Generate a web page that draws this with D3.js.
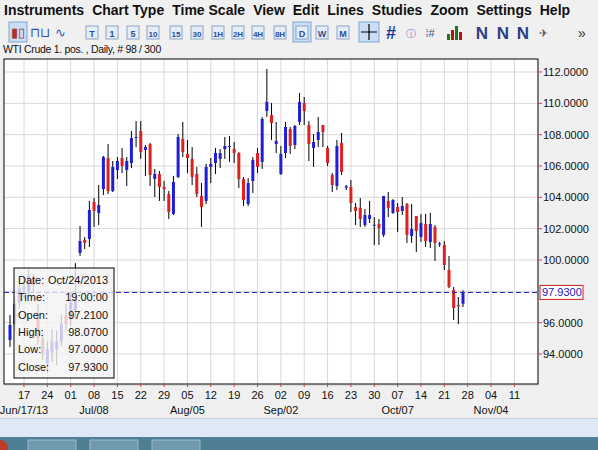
<!DOCTYPE html>
<html><head><meta charset="utf-8">
<script src="https://cdn.jsdelivr.net/npm/d3@7"></script>
<style>body{margin:0;overflow:hidden;background:#f0f0f0}svg{display:block}</style>
</head><body><svg id="c" width="598" height="450"></svg>
<script>
const dayIndex = d3.range(-3, 95);
const opens  = [94.89,95.9,97.3,98.1,98.0,98.9,96.6,95.0,93.4,94.1,94.3,94.8,96.5,96.2,96.8,
 100.45,101.28,101.34,103.70,103.0,104.53,106.51,104.40,105.74,106.51,105.74,106.19,107.79,108.23,107.02,107.40,105.17,105.49,104.66,104.21,102.94,105.30,107.72,106.77,106.45,105.49,104.09,103.77,105.94,106.19,106.45,107.08,107.21,107.08,106.83,105.17,103.57,105.04,106.83,106.26,109.51,109.26,107.40,105.49,106.83,108.36,107.34,
 108.81,110.02,108.62,107.15,107.66,108.62,107.15,105.43,104.72,107.47,104.62,104.66,103.38,103.32,102.23,102.62,102.19,102.30,101.60,103.77,103.0,103.38,103.13,103.57,101.53,102.81,101.47,102.30,101.15,102.11,101.0,100.96,99.36,98.09,97.13,97.21];
const highs  = [96.49,97.6,98.5,98.9,99.4,99.1,97.2,95.3,94.8,95.6,95.5,96.5,97.2,97.9,99.8,
 102.17,101.47,103.77,103.96,104.79,106.64,107.40,106.32,106.57,107.15,106.57,108.23,108.87,108.87,107.34,107.47,105.81,105.68,105.04,104.40,105.36,108.04,108.81,107.66,107.21,105.94,104.91,106.13,106.51,107.15,107.08,107.85,107.91,107.53,106.89,105.30,105.23,106.57,107.15,109.13,112.19,110.02,108.81,107.28,108.81,108.49,108.62,
 110.66,110.40,108.87,108.04,109.13,108.62,107.28,105.55,107.66,108.11,104.79,105.11,103.64,103.96,103.26,103.77,102.74,102.62,104.09,104.34,103.89,103.64,104.02,103.64,103.57,102.81,102.94,102.94,103.0,102.23,101.15,101.21,100.26,98.28,97.64,98.07];
const lows   = [94.45,95.5,96.9,97.6,97.7,97.9,94.6,93.6,92.8,93.5,93.3,94.5,95.6,95.8,96.2,
 100.26,100.70,100.83,102.11,102.23,104.15,104.21,104.34,105.17,105.55,104.72,105.87,107.21,106.45,105.36,104.72,104.02,103.77,103.77,102.62,102.87,105.23,106.57,105.55,104.79,104.02,102.11,103.57,104.91,105.49,105.87,106.45,106.26,106.19,104.60,103.45,103.45,104.28,105.55,105.81,109.13,107.66,106.83,105.43,106.51,106.77,107.08,
 108.62,108.62,106.32,105.94,107.21,107.21,106.0,104.34,104.47,105.43,104.47,103.06,102.23,102.11,102.11,102.36,100.96,100.96,101.47,102.74,102.94,101.79,102.87,101.09,101.09,100.51,101.15,100.83,100.77,99.94,100.83,99.36,98.21,96.17,95.91,97.0];
const closes = [95.85,97.2,98.2,98.3,99.0,98.4,95.0,94.0,94.3,94.8,94.8,95.9,95.9,97.3,97.5,
 101.21,101.09,103.19,103.13,103.51,106.57,104.40,105.94,106.32,106.0,106.32,107.79,107.85,106.89,107.21,105.43,105.49,104.66,104.53,103.06,104.98,107.85,106.89,106.51,105.30,104.21,103.38,105.94,106.13,106.83,106.83,107.28,107.28,106.83,105.17,103.83,104.91,106.38,105.94,109.0,110.09,108.74,107.60,106.77,108.49,107.28,108.55,
 110.09,109.51,107.40,107.53,108.17,108.17,106.19,104.79,107.28,105.62,104.70,103.64,103.13,102.62,102.87,102.87,102.25,102.04,104.09,103.32,103.83,103.06,103.45,101.60,101.98,101.85,102.36,101.21,102.30,101.09,101.05,99.68,98.28,96.94,97.05,97.93];
const priceTicks = [94,96,100,102,104,106,108,110,112];
const weekLabels = ["17","24","01","08","15","22","29","05","12","19","26","02","09","16","23","30","07","14","21","28","04","11"];
const monthLabels = [["Jun/17/13",0],["Jul/08",15],["Aug/05",35],["Sep/02",55],["Oct/07",80],["Nov/04",100]];
const lastPrice = 97.93;
const menus = ["Instruments","Chart Type","Time Scale","View","Edit","Lines","Studies","Zoom","Settings","Help"];
const tfButtons = ["T","1","5","10","15","30","1H","2H","4H","8H","D","W","M"];
const tipRows = [["Date:","Oct/24/2013"],["Time:","19:00:00"],["Open:","97.2100"],["High:","98.0700"],["Low:","97.0000"],["Close:","97.9300"]];

const svg = d3.select("#c");
const F = "Liberation Sans, Arial, sans-serif";
const x = d3.scaleLinear().domain([0,94]).range([24,463]);
const y = d3.scaleLinear().domain([94,112]).range([354,72]);
const L=4,R=538,T=59,B=384;

// chrome
svg.append("rect").attr("width",598).attr("height",450).attr("fill","#f0f0f0");
svg.append("rect").attr("y",418).attr("width",598).attr("height",20).attr("fill","#dfe9f5");
svg.append("line").attr("x1",0).attr("x2",598).attr("y1",418.5).attr("y2",418.5).attr("stroke","#c5d3e3");
svg.append("rect").attr("y",437).attr("width",598).attr("height",13).attr("fill","#4f7f94");
[[28,48],[90,48],[152,48]].forEach(b=>svg.append("rect").attr("x",b[0]).attr("y",440).attr("width",b[1]).attr("height",12).attr("fill","#6f9aae").attr("stroke","#9bbccb"));
svg.append("circle").attr("cx",0).attr("cy",448).attr("r",8).attr("fill","#c0392b");

// menu
let mx=4;
const mg=svg.append("g");
menus.forEach(m=>{const t=mg.append("text").attr("x",mx).attr("y",15).attr("font-family",F).attr("font-size",14).attr("font-weight","bold").attr("fill","#111").text(m);mx+=t.node().getComputedTextLength()+8;});
// toolbar
const tb=svg.append("g");
tb.append("rect").attr("x",9).attr("y",22).attr("width",18).attr("height",20).attr("fill","#c9def4").attr("stroke","#7aa7d6");
tb.append("text").attr("x",18).attr("y",37).attr("text-anchor","middle").attr("font-size",13).attr("fill","#a33").attr("font-family",F).text("▮▯");
tb.append("text").attr("x",40).attr("y",37).attr("text-anchor","middle").attr("font-size",13).attr("fill","#3355aa").attr("font-family",F).text("⊓⊔");
tb.append("text").attr("x",60).attr("y",37).attr("text-anchor","middle").attr("font-size",13).attr("fill","#3355aa").attr("font-family",F).text("∿");
const bx=[92,112,133,153,176,197,218,238,258,280,302,322,343];
tfButtons.forEach((b,i)=>{
  if(b==="D") tb.append("rect").attr("x",bx[i]-9).attr("y",22).attr("width",18).attr("height",20).attr("fill","#c9def4").attr("stroke","#7aa7d6");
  tb.append("rect").attr("x",bx[i]-6).attr("y",26).attr("width",12).attr("height",13).attr("fill","#e4ecf6").attr("stroke","#8aa4c8");
  tb.append("text").attr("x",bx[i]).attr("y",36.5).attr("text-anchor","middle").attr("font-family",F).attr("font-size",b.length>1?8:9).attr("font-weight","bold").attr("fill","#2a4f9a").text(b);
});
tb.append("rect").attr("x",359).attr("y",22).attr("width",20).attr("height",20).attr("fill","#c9def4").attr("stroke","#7aa7d6");
tb.append("path").attr("d","M361,32H377M369,24V40").attr("stroke","#000").attr("stroke-width",1.2);
tb.append("text").attr("x",391).attr("y",39).attr("text-anchor","middle").attr("font-family",F).attr("font-size",18).attr("font-weight","bold").attr("fill","#1a3c9a").text("#");
tb.append("text").attr("x",411).attr("y",37).attr("text-anchor","middle").attr("font-family",F).attr("font-size",10).attr("fill","#8a6fc0").text("ⓘ");
tb.append("text").attr("x",430).attr("y",37).attr("text-anchor","middle").attr("font-family",F).attr("font-size",11).attr("fill","#2a4f9a").text("⁞#");
[[447,6,"#1a7a1a"],[451,10,"#b11"],[455,14,"#1a7a1a"],[459,8,"#b11"]].forEach(v=>tb.append("rect").attr("x",v[0]).attr("y",40-v[1]).attr("width",3).attr("height",v[1]).attr("fill",v[2]));
[482,503,523].forEach(px=>tb.append("text").attr("x",px).attr("y",39).attr("text-anchor","middle").attr("font-family",F).attr("font-size",17).attr("font-weight","bold").attr("fill","#2b3f8a").text("N"));
tb.append("text").attr("x",543).attr("y",37).attr("text-anchor","middle").attr("font-size",11).attr("fill","#555").text("✈");
tb.append("text").attr("x",582).attr("y",38).attr("text-anchor","middle").attr("font-family",F).attr("font-size",14).attr("fill","#333").text("»");
svg.append("text").attr("x",3).attr("y",53).attr("font-family",F).attr("font-size",10.5).attr("fill","#111").attr("letter-spacing",-0.3).text("WTI Crude 1. pos. , Daily, # 98 / 300");

// plot
svg.append("rect").attr("x",L).attr("y",T).attr("width",R-L).attr("height",B-T).attr("fill","#fff");
const g=svg.append("g");
const ticksD=d3.range(0,106,5);
g.selectAll(".vg").data(ticksD).join("line").attr("x1",d=>x(d)).attr("x2",d=>x(d)).attr("y1",T).attr("y2",B).attr("stroke","#d8d8d8");
g.selectAll(".hg").data(d3.range(92,114,2)).join("line").attr("x1",L).attr("x2",R).attr("y1",d=>y(d)).attr("y2",d=>y(d)).attr("stroke","#d8d8d8");
const bars=dayIndex.map((d,i)=>({d,o:opens[i],h:highs[i],l:lows[i],c:closes[i]}));
g.selectAll(".wk").data(bars).join("line").attr("x1",b=>x(b.d)).attr("x2",b=>x(b.d)).attr("y1",b=>y(b.h)).attr("y2",b=>y(b.l)).attr("stroke","#000").attr("stroke-width",1);
g.selectAll(".bd").data(bars).join("rect").attr("x",b=>x(b.d)-1.5).attr("width",3)
 .attr("y",b=>y(Math.max(b.o,b.c))).attr("height",b=>Math.max(1,Math.abs(y(b.o)-y(b.c))))
 .attr("fill",b=>b.c>=b.o?"#1f1fd6":"#e0201e");
g.append("line").attr("x1",L).attr("x2",R).attr("y1",y(lastPrice)).attr("y2",y(lastPrice)).attr("stroke","#2020c0").attr("stroke-dasharray","5,3");
svg.append("rect").attr("x",L).attr("y",T).attr("width",R-L).attr("height",B-T).attr("fill","none").attr("stroke","#000");

// y axis labels
priceTicks.forEach(p=>{
  svg.append("line").attr("x1",R).attr("x2",R+4).attr("y1",y(p)).attr("y2",y(p)).attr("stroke","#d04040");
  svg.append("text").attr("x",R+5).attr("y",y(p)+4).attr("font-family",F).attr("font-size",11).attr("fill","#111").text(p.toFixed(4));
});
svg.append("rect").attr("x",R+2).attr("y",y(lastPrice)-7).attr("width",43).attr("height",14).attr("fill","#fff").attr("stroke","#d02020");
svg.append("text").attr("x",R+4).attr("y",y(lastPrice)+4).attr("font-family",F).attr("font-size",11).attr("fill","#2020c0").text(lastPrice.toFixed(4));
// x axis labels
weekLabels.forEach((t,i)=>{
  const px=x(ticksD[i]);
  svg.append("line").attr("x1",px).attr("x2",px).attr("y1",B).attr("y2",B+3).attr("stroke","#d04040");
  svg.append("text").attr("x",px).attr("y",399).attr("text-anchor","middle").attr("font-family",F).attr("font-size",11).attr("fill","#111").text(t);
});
monthLabels.forEach(m=>svg.append("text").attr("x",x(m[1])).attr("y",414).attr("text-anchor","middle").attr("font-family",F).attr("font-size",11).attr("fill","#111").text(m[0]));

// tooltip
svg.append("rect").attr("x",14).attr("y",268).attr("width",100).attr("height",110).attr("fill","#f2f2f2").attr("fill-opacity",0.8).attr("stroke","#000");
tipRows.forEach((r,i)=>{
  svg.append("text").attr("x",18).attr("y",284+i*17.3).attr("font-family",F).attr("font-size",11).attr("fill","#111").text(r[0]);
  svg.append("text").attr("x",108).attr("y",284+i*17.3).attr("text-anchor","end").attr("font-family",F).attr("font-size",11).attr("fill","#111").text(r[1]);
});
</script></body></html>
